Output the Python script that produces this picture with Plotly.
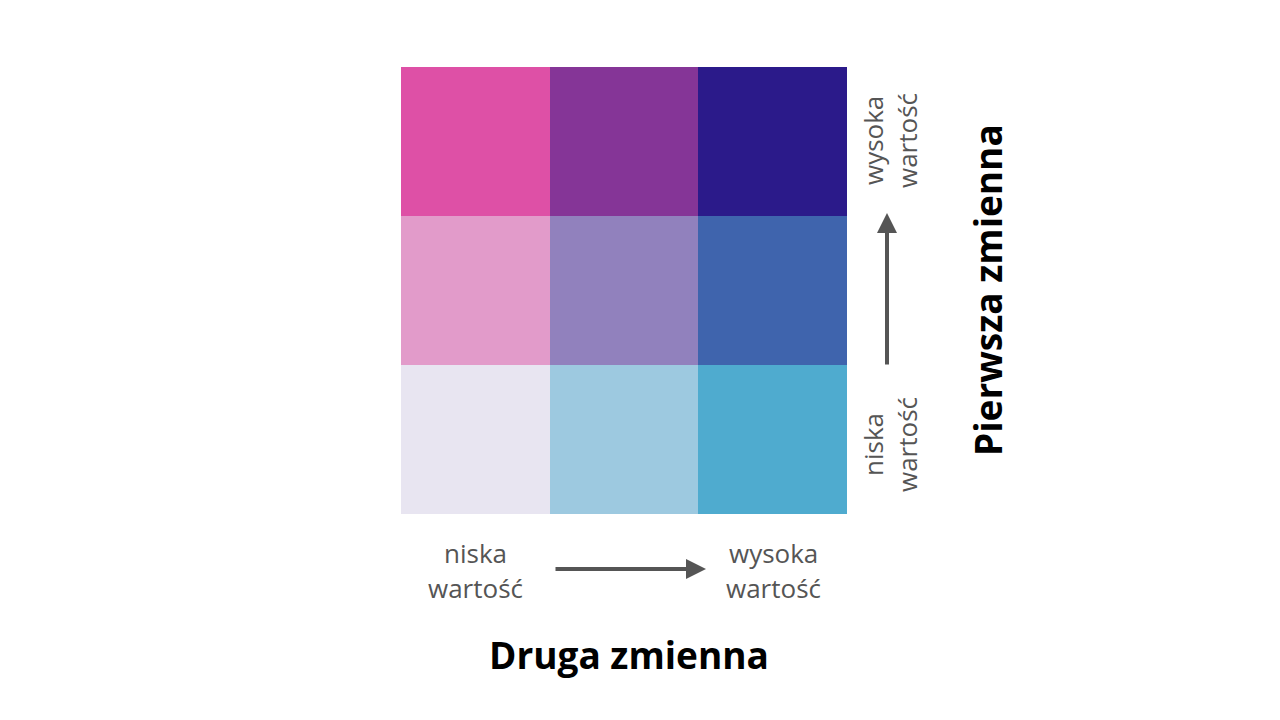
import plotly.graph_objects as go

# 3x3 bivariate legend: rows = first variable (low -> high), cols = second variable (low -> high)
col_levels = [0, 1, 2]
row_levels = [0, 1, 2]
cell_codes = [
    [0, 1, 2],  # first variable low
    [3, 4, 5],  # first variable mid
    [6, 7, 8],  # first variable high
]
cell_colors = [
    "#E8E5F1", "#9DC9E0", "#4FABCF",
    "#E29BCA", "#9181BD", "#3F64AD",
    "#DE50A6", "#853597", "#2B1A8A",
]
low_label = ["niska", "wartość"]
high_label = ["wysoka", "wartość"]
x_title = "Druga zmienna"
y_title = "Pierwsza zmienna"

LABEL_GREY = "#555555"
FONT = "Open Sans"

# discrete colorscale: each code gets a flat band
n = len(cell_colors)
colorscale = []
for i, c in enumerate(cell_colors):
    colorscale.append([i / n, c])
    colorscale.append([(i + 1) / n, c])

fig = go.Figure(go.Heatmap(
    x=col_levels, y=row_levels, z=cell_codes,
    zmin=-0.5, zmax=n - 0.5,
    colorscale=colorscale, showscale=False, hoverinfo="skip",
))

# plot area in screen pixels: x 401..847, y 67..514 (page body adds 8px offset)
OFF = 8
W, H = 1280 - 2 * OFF, 720 - 2 * OFF
L, R, T, B = 401, 847, 67, 514
pw, ph = R - L, B - T


def px(x):
    return (x - L) / pw


def py(y):
    return (B - y) / ph


ann = []
lab_font = dict(family=FONT, size=26, color=LABEL_GREY)

# horizontal labels (bottom)
for i, line in enumerate(low_label):
    ann.append(dict(x=px(475), y=py(553 + 35 * i), text=line, font=lab_font))
for i, line in enumerate(high_label):
    ann.append(dict(x=px(773), y=py(553 + 35 * i), text=line, font=lab_font))

# vertical labels (right side), rotated
for i, line in enumerate(low_label):
    ann.append(dict(x=px(873 + 34 * i), y=py(445), text=line, font=lab_font, textangle=-90))
for i, line in enumerate(high_label):
    ann.append(dict(x=px(873 + 34 * i), y=py(141), text=line, font=lab_font, textangle=-90))

# arrows
arrow = dict(text="", showarrow=True, arrowhead=2, arrowsize=1, arrowwidth=4,
             arrowcolor=LABEL_GREY, axref="x domain", ayref="y domain")
ann.append(dict(x=px(706), y=py(569), ax=px(554), ay=py(569), **arrow))
ann.append(dict(x=px(887), y=py(213), ax=px(887), ay=py(366), **arrow))

# titles
title_font = dict(family=FONT, size=37, color="#000000")
ann.append(dict(x=px(629), y=py(654), text=f"<b>{x_title}</b>", font=title_font))
ann.append(dict(x=px(987), y=py(290), text=f"<b>{y_title}</b>", font=title_font, textangle=-90))

for a in ann:
    a.setdefault("showarrow", False)
    a.update(xref="x domain", yref="y domain", xanchor="center", yanchor="middle")

fig.update_layout(
    width=W, height=H,
    margin=dict(l=L - OFF, r=W - (R - OFF), t=T - OFF, b=H - (B - OFF)),
    paper_bgcolor="white", plot_bgcolor="white",
    xaxis=dict(visible=False, range=[-0.5, 2.5], fixedrange=True),
    yaxis=dict(visible=False, range=[-0.5, 2.5], fixedrange=True),
    annotations=ann,
    showlegend=False,
)

fig.write_html("out.html", config={"displayModeBar": False})
